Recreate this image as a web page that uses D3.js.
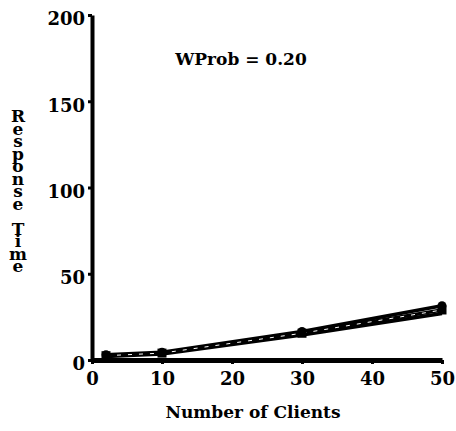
<!DOCTYPE html>
<html>
<head>
<meta charset="utf-8">
<script src="https://cdn.jsdelivr.net/npm/d3@7"></script>
<style>
  html, body { margin: 0; padding: 0; background: #fff; }
  svg text { font-family: "DejaVu Serif", "Liberation Serif", serif; font-weight: bold; fill: #000; }
</style>
</head>
<body>
<svg id="chart" width="456" height="431"></svg>
<script>
// Response time vs. number of clients, write probability 0.20
const clients = [2, 10, 30, 50];
const seriesCircle = [3.0, 4.5, 16.5, 31.5];
const seriesSquare = [2.5, 4.0, 15.5, 29.0];
const seriesPlain  = [2.0, 3.5, 14.5, 27.0];
const xTicks = [0, 10, 20, 30, 40, 50];
const yTicks = [0, 50, 100, 150, 200];
const titleText = "WProb = 0.20";
const xLabel = "Number of Clients";
const yLabel = "Response Time";

const svg = d3.select("#chart");
const x = d3.scaleLinear().domain([0, 50]).range([92, 442]);
const y = d3.scaleLinear().domain([0, 200]).range([360, 15]);

// y axis
const yAxis = svg.append("g").attr("transform", `translate(${x(0)},0)`)
  .call(d3.axisLeft(y).tickValues(yTicks).tickSize(4).tickPadding(3).tickSizeOuter(0));
yAxis.select(".domain").attr("stroke", "#000").attr("stroke-width", 4);
yAxis.selectAll(".tick line").attr("stroke", "#000").attr("stroke-width", 3);
yAxis.selectAll(".tick text").attr("font-size", 18).attr("dy", "0.55em")
  .style("font-family", "DejaVu Serif").style("font-weight", "bold");

// x axis
const xAxis = svg.append("g").attr("transform", `translate(0,${y(0)})`)
  .call(d3.axisBottom(x).tickValues(xTicks).tickSize(4).tickPadding(8).tickSizeOuter(0));
xAxis.select(".domain").attr("stroke", "#000").attr("stroke-width", 5);
xAxis.selectAll(".tick line").attr("stroke", "#000").attr("stroke-width", 3);
xAxis.selectAll(".tick text").attr("font-size", 18)
  .style("font-family", "DejaVu Serif").style("font-weight", "bold");

// series lines
const line = d3.line().x((d, i) => x(clients[i])).y(d => y(d));
[seriesPlain, seriesSquare, seriesCircle].forEach(s => {
  svg.append("path").datum(s).attr("d", line)
    .attr("fill", "none").attr("stroke", "#000").attr("stroke-width", 3.5);
});
// dashed overlay along the middle series
svg.append("path").datum(seriesSquare).attr("d", line)
  .attr("fill", "none").attr("stroke", "#fff").attr("stroke-width", 1)
  .attr("stroke-dasharray", "4,7");

// markers
svg.selectAll("circle.m").data(seriesCircle).join("circle")
  .attr("cx", (d, i) => x(clients[i])).attr("cy", d => y(d)).attr("r", 4.5).attr("fill", "#000");
svg.selectAll("rect.m").data(seriesSquare).join("rect")
  .attr("x", (d, i) => x(clients[i]) - 4.5).attr("y", d => y(d) - 4.5)
  .attr("width", 9).attr("height", 9).attr("fill", "#000");

// title
svg.append("text").attr("x", 241).attr("y", 65).attr("text-anchor", "middle")
  .attr("font-size", 17).text(titleText);

// x label
svg.append("text").attr("x", 253).attr("y", 418).attr("text-anchor", "middle")
  .attr("font-size", 17).text(xLabel);

// y label, letters stacked upright
svg.append("text")
  .attr("x", 18).attr("y", 106)
  .attr("font-size", 17)
  .attr("textLength", 170)
  .attr("lengthAdjust", "spacing")
  .style("writing-mode", "vertical-rl")
  .style("text-orientation", "upright")
  .text(yLabel);
</script>
</body>
</html>
